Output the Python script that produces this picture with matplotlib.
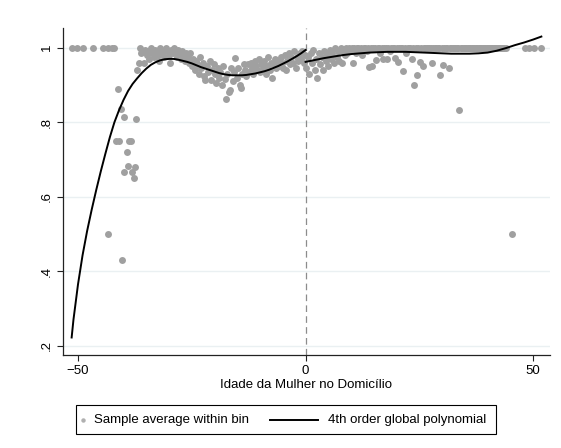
import numpy as np
import matplotlib.pyplot as plt
from matplotlib.lines import Line2D
from matplotlib.patches import Rectangle

plt.rcParams["font.family"] = ["Liberation Sans", "DejaVu Sans"]

# bin averages left of the cutoff (age difference < 0)
left_x = [
    -51.4, -50.2, -48.9, -46.7, -44.5, -43.5, -43.4, -42.6, -42.1, -41.7,
    -41.2, -40.9, -40.6, -40.3, -40.0, -39.8, -39.3, -39.0, -38.8, -38.4,
    -38.1, -37.8, -37.5, -37.2, -37.0, -36.7, -36.4, -36.1, -35.8, -35.5,
    -35.2, -34.9, -34.6, -34.3, -34.0, -33.7, -33.4, -33.1, -32.8, -32.5,
    -32.2, -31.9, -31.6, -31.3, -31.0, -30.7, -30.4, -30.1, -29.8, -29.5,
    -29.2, -28.9, -28.6, -28.3, -28.0, -27.7, -27.4, -27.1, -26.8, -26.5,
    -26.2, -25.9, -25.6, -25.3, -25.0, -24.7, -24.4, -24.1, -23.8, -23.5,
    -23.2, -22.9, -22.6, -22.3, -22.0, -21.7, -21.4, -21.1, -20.8, -20.5,
    -20.2, -19.9, -19.6, -19.3, -19.0, -18.7, -18.4, -18.1, -17.8, -17.5,
    -17.2, -16.9, -16.6, -16.3, -16.0, -15.7, -15.4, -15.1, -14.8, -14.5,
    -14.2, -13.9, -13.6, -13.3, -13.0, -12.7, -12.4, -12.1, -11.8, -11.5,
    -11.2, -10.9, -10.6, -10.3, -10.0, -9.7, -9.4, -9.1, -8.8, -8.5,
    -8.2, -7.9, -7.6, -7.3, -7.0, -6.7, -6.4, -6.1, -5.8, -5.5,
    -5.2, -4.9, -4.6, -4.3, -4.0, -3.7, -3.4, -3.1, -2.8, -2.5,
    -2.2, -1.9, -1.6, -1.3, -1.0, -0.7, -0.4, -0.1,
]
left_y = [
    1.0, 1.0, 1.0, 1.0, 1.0, 0.50, 1.0, 1.0, 1.0, 0.75,
    0.89, 0.75, 0.835, 0.43, 0.813, 0.667, 0.721, 0.683, 0.75, 0.75,
    0.667, 0.65, 0.68, 0.808, 0.94, 0.958, 1.0, 0.985, 0.99, 0.96,
    0.995, 0.98, 0.99, 0.97, 1.0, 0.985, 0.975, 0.995, 0.99, 0.98,
    0.965, 1.0, 0.985, 0.99, 0.975, 1.0, 0.99, 0.98, 0.958, 0.995,
    0.985, 1.0, 0.99, 0.975, 0.995, 0.985, 0.97, 0.99, 0.98, 0.965,
    0.985, 0.975, 0.96, 0.985, 0.95, 0.97, 0.94, 0.965, 0.955, 0.93,
    0.975, 0.945, 0.96, 0.925, 0.913, 0.95, 0.935, 0.965, 0.913, 0.94,
    0.955, 0.93, 0.905, 0.945, 0.92, 0.935, 0.90, 0.95, 0.915, 0.862,
    0.93, 0.88, 0.886, 0.945, 0.91, 0.935, 0.973, 0.92, 0.945, 0.90,
    0.891, 0.93, 0.955, 0.94, 0.925, 0.955, 0.935, 0.96, 0.945, 0.93,
    0.965, 0.95, 0.94, 0.97, 0.935, 0.955, 0.945, 0.965, 0.93, 0.95,
    0.975, 0.94, 0.96, 0.918, 0.955, 0.97, 0.945, 0.965, 0.95, 0.975,
    0.96, 0.945, 0.98, 0.94, 0.965, 0.985, 0.955, 0.975, 0.96, 0.99,
    0.945, 0.975, 0.965, 0.985, 0.97, 0.99, 0.96, 0.98,
]

# bin averages right of the cutoff
right_x = [
    0.2, 0.5, 0.8, 1.1, 1.4, 1.7, 2.0, 2.3, 2.6, 2.9,
    3.2, 3.5, 3.8, 4.1, 4.4, 4.7, 5.0, 5.3, 5.6, 5.9,
    6.2, 6.5, 6.8, 7.1, 7.4, 7.7, 8.0, 8.3, 8.6,
    8.9, 9.2, 9.5, 9.8, 10.1, 10.4, 10.7, 11.0, 11.3, 11.6,
    11.9, 12.2, 12.5, 12.8, 13.1, 13.4, 13.7, 14.0, 14.3, 14.6,
    14.9, 15.2, 15.5, 15.8, 16.1, 16.4, 16.7, 17.0, 17.3, 17.6,
    17.9, 18.2, 18.5, 18.8, 19.1, 19.4, 19.7, 20.0, 20.3, 20.6,
    20.9, 21.2, 21.5, 21.8, 22.1, 22.4, 22.7, 23.0, 23.3, 23.6,
    23.9, 24.2, 24.5, 24.8, 25.1, 25.4, 25.7, 26.0, 26.3, 26.6,
    26.9, 27.2, 27.5, 27.8, 28.1, 28.4, 28.7, 29.0, 29.3, 29.6,
    29.9, 30.2, 30.5, 30.8, 31.1, 31.4, 31.7, 32.0, 32.3, 32.6,
    32.9, 33.2, 33.5, 33.8, 34.1, 34.4, 34.7, 35.0, 35.3, 35.6,
    35.9, 36.2, 36.5, 36.8, 37.1, 37.4, 37.7, 38.0, 38.3, 38.6,
    38.9, 39.2, 39.5, 39.8, 40.1, 40.4, 40.7, 41.0, 41.3, 41.6,
    41.9, 42.2, 42.5, 42.8, 43.1, 43.4, 43.7, 44.0,
    45.4, 48.3, 49.1, 50.2, 51.8,
]
right_y = [
    0.945, 0.975, 0.93, 0.985, 0.96, 0.995, 0.94, 0.97, 0.92, 0.985,
    0.955, 0.975, 0.94, 0.99, 0.965, 0.98, 0.95, 0.995, 0.97, 0.985,
    0.96, 1.0, 0.975, 0.99, 0.965, 1.0, 0.958, 0.99, 0.98,
    1.0, 0.985, 1.0, 0.99, 1.0, 0.96, 1.0, 0.985, 1.0, 1.0,
    0.99, 1.0, 0.98, 1.0, 1.0, 0.99, 1.0, 0.949, 1.0, 0.95,
    1.0, 1.0, 0.967, 1.0, 1.0, 0.985, 1.0, 0.97, 1.0, 1.0,
    0.97, 1.0, 0.99, 1.0, 1.0, 1.0, 0.972, 1.0, 0.962, 1.0,
    1.0, 1.0, 0.937, 1.0, 0.985, 1.0, 1.0, 1.0, 0.97, 1.0,
    0.90, 1.0, 0.928, 1.0, 0.962, 1.0, 0.952, 1.0, 1.0, 1.0,
    1.0, 1.0, 1.0, 0.958, 1.0, 1.0, 1.0, 1.0, 1.0, 0.928,
    1.0, 0.954, 1.0, 1.0, 1.0, 0.945, 1.0, 1.0, 1.0, 1.0,
    1.0, 1.0, 1.0, 0.834, 1.0, 1.0, 1.0, 1.0, 1.0, 1.0,
    1.0, 1.0, 1.0, 1.0, 1.0, 1.0, 1.0, 1.0, 1.0, 1.0,
    1.0, 1.0, 1.0, 1.0, 1.0, 1.0, 1.0, 1.0, 1.0, 1.0,
    1.0, 1.0, 1.0, 1.0, 1.0, 1.0, 1.0, 1.0,
    0.50, 1.0, 1.0, 1.0, 1.0,
]

# 4th order polynomial fits, each side of the cutoff
fit_left_x = [-51.4, -51.0, -50.0, -49.0, -48.0, -47.0, -46.0, -45.0, -44.0, -43.0,
              -42.0, -41.0, -40.0, -39.0, -38.0, -37.0, -36.0, -35.0, -34.0, -33.0,
              -32.0, -31.0, -30.0, -29.0, -28.0, -27.0, -26.0, -25.0, -24.0, -23.0,
              -22.0, -21.0, -20.0, -19.0, -18.0, -17.0, -16.0, -15.0, -14.0, -13.0,
              -12.0, -11.0, -10.0, -9.0, -8.0, -7.0, -6.0, -5.0, -4.0, -3.0,
              -2.0, -1.0, 0.0]
fit_left_y = [0.222, 0.27, 0.365, 0.443, 0.508, 0.565, 0.618, 0.668, 0.715, 0.76,
              0.80, 0.832, 0.86, 0.884, 0.903, 0.918, 0.932, 0.944, 0.954, 0.961,
              0.966, 0.969, 0.970, 0.970, 0.968, 0.965, 0.962, 0.958, 0.953, 0.948,
              0.944, 0.940, 0.936, 0.932, 0.929, 0.927, 0.926, 0.926, 0.926, 0.927,
              0.929, 0.931, 0.934, 0.937, 0.941, 0.946, 0.951, 0.957, 0.963, 0.970,
              0.977, 0.985, 0.994]
fit_right_x = [0.0, 2.0, 4.0, 6.0, 8.0, 10.0, 12.0, 14.0, 16.0, 18.0,
               20.0, 22.0, 24.0, 26.0, 28.0, 30.0, 32.0, 34.0, 36.0, 38.0,
               40.0, 42.0, 44.0, 46.0, 48.0, 50.0, 51.8]
fit_right_y = [0.962, 0.967, 0.972, 0.976, 0.980, 0.983, 0.985, 0.987, 0.988, 0.989,
               0.989, 0.989, 0.988, 0.987, 0.986, 0.985, 0.984, 0.984, 0.984, 0.985,
               0.987, 0.992, 0.999, 1.007, 1.014, 1.022, 1.030]

W, H = 561, 448
fig = plt.figure(figsize=(W / 100, H / 100), dpi=100)
ax = fig.add_axes([63 / W, 1 - 355 / H, (550 - 63) / W, (355 - 28) / H])

ax.scatter(left_x + right_x, left_y + right_y, s=25, color="#a0a0a0",
           linewidths=0, zorder=2)
ax.plot(fit_left_x, fit_left_y, color="black", lw=1.4, zorder=3)
ax.plot(fit_right_x, fit_right_y, color="black", lw=1.4, zorder=3)
ax.axvline(0, color="#8c8c8c", lw=0.9, ls=(0, (5.3, 3.4)), zorder=1)

ax.set_xlim(-53.3, 53.7)
ax.set_ylim(0.175, 1.053)
ax.set_xticks([-50, 0, 50])
ax.set_yticks([0.2, 0.4, 0.6, 0.8, 1.0])
ax.set_yticklabels([".2", ".4", ".6", ".8", "1"], rotation=90, va="center")
ax.yaxis.grid(True, color="#eaf0f2", lw=1.0, zorder=0)
ax.set_axisbelow(True)

for side in ["top", "right"]:
    ax.spines[side].set_visible(False)
for side in ["left", "bottom"]:
    ax.spines[side].set_color("#222222")
    ax.spines[side].set_linewidth(0.9)
ax.tick_params(direction="out", length=4.5, width=0.8, color="#222222",
               labelsize=9.5, pad=3)
ax.set_xlabel("Idade da Mulher no Domicílio", fontsize=9.5, labelpad=1)

# legend box below the plot
fig.add_artist(Rectangle((76 / W, 1 - 434 / H), 420 / W, 29 / H, transform=fig.transFigure,
                         fill=False, edgecolor="black", lw=0.8))
ly = 1 - 419.5 / H
fig.add_artist(Line2D([83 / W], [ly], transform=fig.transFigure, marker="o", ms=3.2,
                      color="#b0b0b0", mec="none", ls="none"))
fig.text(94 / W, ly, "Sample average within bin", fontsize=9.5, va="center", ha="left")
fig.add_artist(Line2D([270 / W, 318 / W], [ly, ly], transform=fig.transFigure,
                      color="black", lw=1.4))
fig.text(328 / W, ly, "4th order global polynomial", fontsize=9.5, va="center", ha="left")

fig.savefig("out.png", dpi=100)
